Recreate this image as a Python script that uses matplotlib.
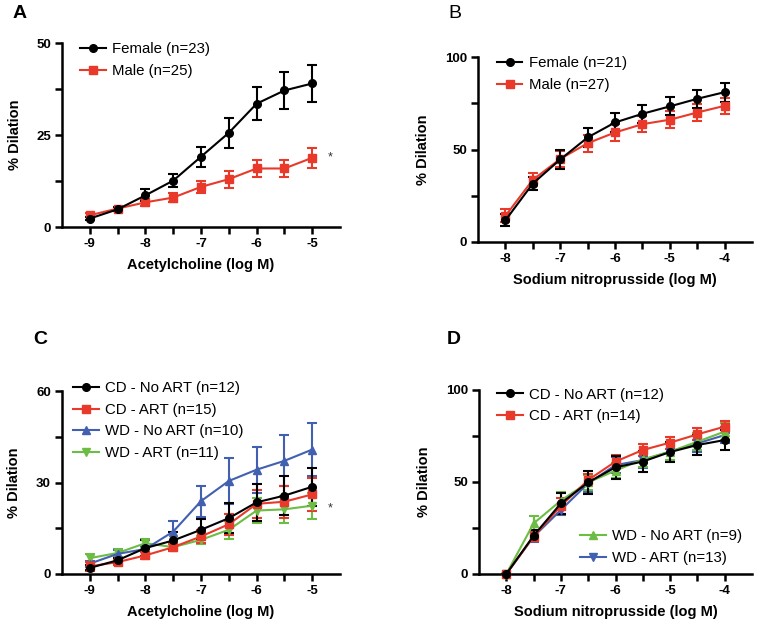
import numpy as np
import matplotlib
matplotlib.use("Agg")
import matplotlib.pyplot as plt
from matplotlib.lines import Line2D

plt.rcParams['font.family'] = ['Liberation Sans', 'DejaVu Sans']

RED = "#e8392b"
BLUE = "#4360b0"
GREEN = "#6dbd45"

# ---- data ----
ach_x = [-9, -8.5, -8, -7.5, -7, -6.5, -6, -5.5, -5]
snp_x = [-8, -7.5, -7, -6.5, -6, -5.5, -5, -4.5, -4]

# A: acetylcholine, sex
a_female = [2.3, 4.8, 8.6, 12.6, 19.1, 25.6, 33.5, 37.1, 39.0]
a_female_err = [0.4, 0.5, 1.6, 1.8, 2.7, 4.1, 4.5, 4.9, 4.9]
a_male = [3.2, 5.0, 6.7, 8.0, 10.9, 13.0, 15.9, 15.9, 18.8]
a_male_err = [0.5, 0.5, 0.9, 1.2, 1.6, 2.3, 2.4, 2.4, 2.8]

# B: SNP, sex
b_female = [11.7, 31.6, 44.6, 56.5, 64.6, 69.3, 73.3, 77.4, 81.0]
b_female_err = [3.2, 3.6, 4.9, 5.0, 5.0, 4.9, 4.9, 4.9, 5.2]
b_male = [14.1, 33.6, 44.9, 53.4, 59.2, 63.7, 66.1, 70.0, 73.6]
b_male_err = [3.5, 3.5, 4.5, 4.5, 4.5, 4.5, 4.5, 4.5, 4.5]

# C: acetylcholine, diet x ART
c_cd_noart = [2.0, 4.5, 8.5, 11.0, 14.5, 18.3, 23.5, 25.7, 28.6]
c_cd_noart_err = [0.8, 0.8, 2.7, 2.9, 3.5, 4.9, 6.0, 6.5, 6.3]
c_cd_art = [2.5, 3.9, 6.1, 8.8, 12.3, 16.3, 23.0, 23.7, 26.1]
c_cd_art_err = [1.5, 0.8, 1.2, 1.2, 2.0, 3.5, 4.5, 5.2, 5.5]
c_wd_noart = [3.4, 6.6, 8.2, 13.9, 23.9, 30.5, 34.2, 37.1, 40.8]
c_wd_noart_err = [1.0, 1.3, 1.0, 3.6, 5.1, 7.6, 7.5, 8.4, 8.7]
c_wd_art = [5.2, 6.9, 10.1, 8.8, 11.2, 14.5, 20.8, 21.2, 22.4]
c_wd_art_err = [1.2, 1.2, 1.5, 1.2, 1.2, 3.0, 4.2, 4.5, 4.3]

# D: SNP, diet x ART
d_cd_noart = [0, 20.8, 38.4, 49.8, 58.0, 61.1, 66.3, 70.1, 72.8]
d_cd_noart_err = [0, 3.0, 5.8, 6.2, 6.2, 5.6, 5.5, 5.5, 5.5]
d_cd_art = [0, 20.3, 37.0, 51.1, 61.1, 67.4, 71.4, 75.9, 80.1]
d_cd_art_err = [0, 2.5, 4.5, 3.5, 3.5, 3.2, 3.2, 3.2, 3.2]
d_wd_noart = [0, 27.5, 39.9, 49.8, 56.2, 62.3, 66.5, 71.9, 77.4]
d_wd_noart_err = [0, 4.0, 4.5, 4.0, 4.0, 4.0, 4.5, 4.5, 4.5]
d_wd_art = [0, 20.3, 34.8, 49.3, 59.2, 61.9, 66.5, 71.0, 75.5]
d_wd_art_err = [0, 3.0, 3.0, 4.5, 4.5, 4.5, 4.5, 4.5, 4.5]

W, H = 761, 625
fig = plt.figure(figsize=(W / 100, H / 100), dpi=100)


def add_ax(left, right, top, bottom):
    return fig.add_axes([left / W, 1 - bottom / H, (right - left) / W, (bottom - top) / H])


def style(ax, xlim, xint, ymax, xlabel):
    ax.set_xlim(*xlim)
    ax.set_ylim(0, ymax)
    for s in ["top", "right"]:
        ax.spines[s].set_visible(False)
    for s in ["left", "bottom"]:
        ax.spines[s].set_linewidth(1.8)
    xt = np.arange(xint[0], xint[1] + 0.25, 0.5)
    ax.set_xticks(xt)
    ax.set_xticklabels([f"{int(v)}" if v == int(v) else "" for v in xt])
    yt = [0, ymax / 4, ymax / 2, 3 * ymax / 4, ymax]
    ax.set_yticks(yt)
    ax.set_yticklabels([f"{int(v)}" if i % 2 == 0 else "" for i, v in enumerate(yt)])
    ax.tick_params(direction="out", length=5, width=1.8, labelsize=9.5, pad=3)
    for lab in ax.get_xticklabels() + ax.get_yticklabels():
        lab.set_fontweight("bold")
    ax.set_xlabel(xlabel, fontsize=10.5, fontweight="bold", labelpad=6)
    ax.set_ylabel("% Dilation", fontsize=10.5, fontweight="bold", labelpad=10.5)


def series(ax, x, y, e, color, marker):
    ax.errorbar(x, y, yerr=e, color=color, marker=marker, ms=5.5, lw=1.5,
                elinewidth=1.5, capsize=3.8, capthick=1.5,
                clip_on=False, zorder=3)


def key(color, marker):
    return Line2D([], [], color=color, marker=marker, ms=5.5, lw=1.5)


def legend(ax, handles, labels, loc, anchor):
    return ax.legend(handles, labels, loc=loc, bbox_to_anchor=anchor, frameon=False,
                     fontsize=10.8, handlelength=1.7, handletextpad=0.45,
                     labelspacing=0.5, borderpad=0, borderaxespad=0)


# Panel A
axA = add_ax(62, 340, 43, 227)
series(axA, ach_x, a_male, a_male_err, RED, "s")
series(axA, ach_x, a_female, a_female_err, "black", "o")
style(axA, (-9.5, -4.5), (-9, -5), 50, "Acetylcholine (log M)")
legend(axA, [key("black", "o"), key(RED, "s")], ["Female (n=23)", "Male (n=25)"],
       "upper left", (0.065, 1.003))
axA.text(-4.68, 19, "*", fontsize=9, va="center", ha="center", color="#333333")

# Panel B
axB = add_ax(478, 752, 57, 242)
series(axB, snp_x, b_male, b_male_err, RED, "s")
series(axB, snp_x, b_female, b_female_err, "black", "o")
style(axB, (-8.5, -3.5), (-8, -4), 100, "Sodium nitroprusside (log M)")
legend(axB, [key("black", "o"), key(RED, "s")], ["Female (n=21)", "Male (n=27)"],
       "upper left", (0.069, 1.003))

# Panel C
axC = add_ax(62, 340, 391, 574)
series(axC, ach_x, c_wd_art, c_wd_art_err, GREEN, "v")
series(axC, ach_x, c_wd_noart, c_wd_noart_err, BLUE, "^")
series(axC, ach_x, c_cd_art, c_cd_art_err, RED, "s")
series(axC, ach_x, c_cd_noart, c_cd_noart_err, "black", "o")
style(axC, (-9.5, -4.5), (-9, -5), 60, "Acetylcholine (log M)")
legend(axC, [key("black", "o"), key(RED, "s"), key(BLUE, "^"), key(GREEN, "v")],
       ["CD - No ART (n=12)", "CD - ART (n=15)", "WD - No ART (n=10)", "WD - ART (n=11)"],
       "upper left", (0.04, 1.053))
axC.text(-4.68, 21.5, "*", fontsize=9, va="center", ha="center", color="#333333")

# Panel D
axD = add_ax(479, 752, 390, 574)
series(axD, snp_x, d_wd_art, d_wd_art_err, BLUE, "v")
series(axD, snp_x, d_wd_noart, d_wd_noart_err, GREEN, "^")
series(axD, snp_x, d_cd_art, d_cd_art_err, RED, "s")
series(axD, snp_x, d_cd_noart, d_cd_noart_err, "black", "o")
style(axD, (-8.5, -3.5), (-8, -4), 100, "Sodium nitroprusside (log M)")
legD1 = legend(axD, [key("black", "o"), key(RED, "s")],
               ["CD - No ART (n=12)", "CD - ART (n=14)"], "upper left", (0.066, 1.013))
axD.add_artist(legD1)
legend(axD, [key(GREEN, "^"), key(BLUE, "v")], ["WD - No ART (n=9)", "WD - ART (n=13)"],
       "lower left", (0.37, 0.05))

# panel letters
fig.text(13 / W, 1 - 14 / H, "A", fontsize=14, fontweight="bold", va="center")
fig.text(448 / W, 1 - 14 / H, "B", fontsize=14, va="center")
fig.text(33 / W, 1 - 339 / H, "C", fontsize=14, fontweight="bold", va="center")
fig.text(447 / W, 1 - 339 / H, "D", fontsize=14, fontweight="bold", va="center")

fig.savefig("out.png", dpi=100)
